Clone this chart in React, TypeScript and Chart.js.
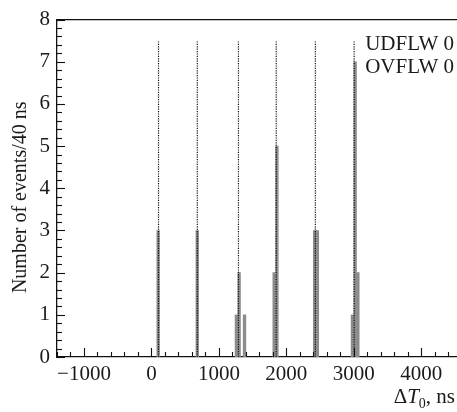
import React, { useEffect, useRef } from 'react';
import { Chart, registerables } from 'chart.js';

Chart.register(...registerables);

// Histogram bins (start of 40 ns bin, ns) and counts
const binStarts = [80, 660, 1240, 1280, 1360, 1800, 1840, 2400, 2440, 2960, 3000, 3040];
const binCounts = [3, 3, 1, 2, 1, 2, 5, 3, 3, 1, 7, 2];
const BIN_WIDTH = 40;

// Dotted marker lines (ns) and their height
const markerPositions = [105, 680, 1290, 1850, 2430, 3005];
const markerHeight = 7.5;

// Axes
const xMajorTicks = [-1000, 0, 1000, 2000, 3000, 4000];
const xMinorStep = 200;
const yMajorTicks = [0, 1, 2, 3, 4, 5, 6, 7, 8];
const yMinorStep = 0.2;
const X_MIN = -1400;
const X_MAX = 4530;
const Y_MIN = 0;
const Y_MAX = 8;

const yTitle = 'Number of events/40 ns';
const overflowLabels = ['UDFLW 0', 'OVFLW 0'];

const SERIF = "'Liberation Serif', 'Times New Roman', serif";
const TEXT = '#1a1a1a';

const decorPlugin = {
  id: 'decor',
  afterDatasetsDraw(chart: any) {
    const { ctx, chartArea } = chart;
    const xs = chart.scales.x;
    const ys = chart.scales.y;
    ctx.save();
    ctx.strokeStyle = '#111';
    ctx.lineWidth = 1.3;
    // top border
    ctx.beginPath();
    ctx.moveTo(chartArea.left, chartArea.top);
    ctx.lineTo(chartArea.right, chartArea.top);
    ctx.stroke();
    // inward y ticks
    ctx.lineWidth = 1.1;
    const nY = Math.round((Y_MAX - Y_MIN) / yMinorStep);
    for (let i = 0; i <= nY; i++) {
      const v = Y_MIN + i * yMinorStep;
      const major = yMajorTicks.some((t) => Math.abs(t - v) < 1e-6);
      const py = Math.round(ys.getPixelForValue(v)) + 0.5;
      ctx.beginPath();
      ctx.moveTo(chartArea.left, py);
      ctx.lineTo(chartArea.left + (major ? 8 : 5), py);
      ctx.stroke();
    }
    // inward x ticks
    for (let v = X_MIN; v <= X_MAX; v += xMinorStep) {
      const major = xMajorTicks.includes(v);
      const px = Math.round(xs.getPixelForValue(v)) + 0.5;
      ctx.beginPath();
      ctx.moveTo(px, chartArea.bottom);
      ctx.lineTo(px, chartArea.bottom - (major ? 9 : 5));
      ctx.stroke();
    }
    // overflow labels
    ctx.fillStyle = TEXT;
    ctx.font = `21px ${SERIF}`;
    ctx.textAlign = 'right';
    ctx.textBaseline = 'alphabetic';
    overflowLabels.forEach((t, i) => {
      ctx.fillText(t, chartArea.right - 3, chartArea.top + 30 + i * 23);
    });
    // y axis title
    ctx.save();
    ctx.translate(21, (chartArea.top + chartArea.bottom) / 2 + 9);
    ctx.rotate(-Math.PI / 2);
    ctx.textAlign = 'center';
    ctx.textBaseline = 'middle';
    ctx.font = `20px ${SERIF}`;
    ctx.fillText(yTitle, 0, 0);
    ctx.restore();
    // x axis title: ΔT0, ns with italic T and subscript 0
    const base = 403;
    const parts = [
      { t: 'Δ', f: `21px ${SERIF}`, dy: 0 },
      { t: 'T', f: `italic 21px ${SERIF}`, dy: 0 },
      { t: '0', f: `14px ${SERIF}`, dy: 5 },
      { t: ', ns', f: `21px ${SERIF}`, dy: 0 },
    ];
    let total = 0;
    parts.forEach((p) => {
      ctx.font = p.f;
      total += ctx.measureText(p.t).width;
    });
    let x = chart.width - 2 - total;
    ctx.textAlign = 'left';
    ctx.textBaseline = 'alphabetic';
    parts.forEach((p) => {
      ctx.font = p.f;
      ctx.fillText(p.t, x, base + p.dy);
      x += ctx.measureText(p.t).width;
    });
    ctx.restore();
  },
};

export default function App() {
  const ref = useRef<HTMLCanvasElement | null>(null);

  useEffect(() => {
    if (!ref.current) return;
    const barData = binStarts.map((s, i) => ({ x: s + BIN_WIDTH / 2, y: binCounts[i] }));
    const markerData: any[] = [];
    markerPositions.forEach((m) => {
      markerData.push({ x: m, y: 0 }, { x: m, y: markerHeight }, { x: m, y: null });
    });

    const chart = new Chart(ref.current, {
      type: 'bar',
      data: {
        datasets: [
          {
            type: 'line',
            data: markerData,
            borderColor: '#111',
            borderWidth: 1.2,
            borderDash: [1.2, 1.2],
            pointRadius: 0,
            spanGaps: false,
            fill: false,
            order: 0,
          } as any,
          {
            type: 'bar',
            data: barData,
            backgroundColor: '#8c8c8c',
            borderWidth: 0,
            barPercentage: 1,
            categoryPercentage: 1,
            order: 1,
          } as any,
        ],
      },
      options: {
        animation: false,
        responsive: true,
        maintainAspectRatio: false,
        layout: { padding: { top: 18, right: 0, left: 0, bottom: 0 } },
        plugins: { legend: { display: false }, tooltip: { enabled: false } },
        scales: {
          x: {
            type: 'linear',
            min: X_MIN,
            max: X_MAX,
            offset: false,
            grid: { display: false, drawTicks: false },
            border: { display: true, color: '#111', width: 1.3 },
            afterBuildTicks: (scale: any) => {
              scale.ticks = xMajorTicks.map((v) => ({ value: v }));
            },
            afterFit: (scale: any) => {
              scale.height = 55;
            },
            ticks: {
              autoSkip: false,
              maxRotation: 0,
              padding: 5,
              color: TEXT,
              font: { family: SERIF, size: 21 },
              callback: (v: any) => (v < 0 ? '\u2212' + Math.abs(v) : String(v)),
            },
          },
          y: {
            type: 'linear',
            min: Y_MIN,
            max: Y_MAX,
            grid: { display: false, drawTicks: false },
            border: { display: true, color: '#111', width: 1.3 },
            afterBuildTicks: (scale: any) => {
              scale.ticks = yMajorTicks.map((v) => ({ value: v }));
            },
            afterFit: (scale: any) => {
              scale.width = 57;
            },
            ticks: {
              padding: 7,
              color: TEXT,
              font: { family: SERIF, size: 21 },
            },
          },
        },
      },
      plugins: [decorPlugin],
    });
    return () => chart.destroy();
  }, []);

  return (
    <div style={{ position: 'fixed', left: 0, top: 0, width: 457, height: 412, background: '#fff' }}>
      <canvas ref={ref} />
    </div>
  );
}
